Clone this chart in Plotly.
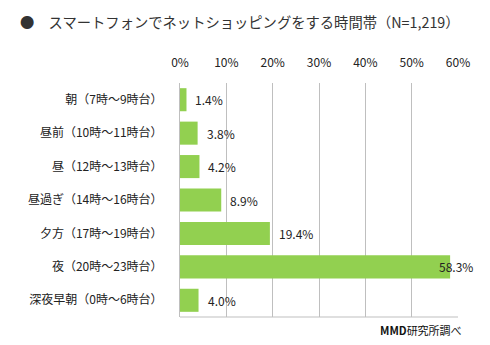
import plotly.graph_objects as go

categories = ["朝（7時～9時台）", "昼前（10時～11時台）", "昼（12時～13時台）", "昼過ぎ（14時～16時台）",
              "夕方（17時～19時台）", "夜（20時～23時台）", "深夜早朝（0時～6時台）"]
values = [1.4, 3.8, 4.2, 8.9, 19.4, 58.3, 4.0]
tick_vals = [0, 10, 20, 30, 40, 50, 60]
tick_text = ["0%", "10%", "20%", "30%", "40%", "50%", "60%"]

FONT = "Noto Sans CJK JP"
GRID = "#BFBFBF"

fig = go.Figure(go.Bar(
    x=values, y=categories, orientation="h",
    marker=dict(color="#92D050", line=dict(width=0)),
    hoverinfo="skip",
))

for c, v in zip(categories, values):
    near_end = v > 55
    fig.add_annotation(
        x=v, y=c, xref="x", yref="y",
        text=f"{v:.1f}%", showarrow=False,
        xanchor="right" if near_end else "left",
        xshift=25 if near_end else 7,
        font=dict(family=FONT, size=12, color="#222"),
    )

fig.add_annotation(
    x=-(180 - 18) / (490 - 180 - 32), y=1 + (83 - 21) / (345 - 83 - 28),
    xref="paper", yref="paper", xanchor="left", yanchor="middle",
    text="●　スマートフォンでネットショッピングをする時間帯（N=1,219）",
    showarrow=False, font=dict(family=FONT, size=14.3, color="#333"),
)
fig.add_annotation(
    x=1, y=0, xref="paper", yref="paper", xanchor="right", yanchor="top",
    text="<b>MMD</b>研究所調べ", showarrow=False, yshift=-3, xshift=6,
    font=dict(family=FONT, size=11, color="#111"),
)

fig.add_shape(type="line", xref="paper", yref="paper", x0=0, x1=1, y0=0, y1=0,
              line=dict(color=GRID, width=1))

fig.update_layout(
    width=490, height=345,
    margin=dict(l=180, r=32, t=83, b=28),
    paper_bgcolor="white", plot_bgcolor="white",
    showlegend=False, bargap=0.31,
    font=dict(family=FONT, size=12, color="#222"),
    xaxis=dict(range=[0, 60], side="top", tickvals=tick_vals, ticktext=tick_text,
               showgrid=True, gridcolor=GRID, gridwidth=1, zeroline=False,
               showline=False, ticks="", ticklabelstandoff=13,
               tickfont=dict(family=FONT, size=12, color="#222"), fixedrange=True),
    yaxis=dict(autorange="reversed", showline=True, linecolor=GRID, linewidth=1,
               showgrid=False, ticks="", ticklabelstandoff=14,
               tickfont=dict(family=FONT, size=12, color="#222"), fixedrange=True),
)

fig.write_html("out.html")
